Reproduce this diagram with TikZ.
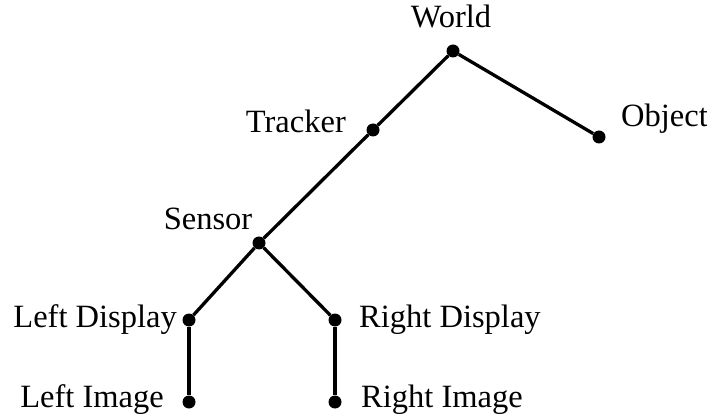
\documentclass[tikz,border=0pt]{standalone}
\usepackage{fontspec}
\setmainfont{Liberation Serif}
\tikzset{
  dot/.style={circle,fill=black,inner sep=0pt,minimum size=13pt},
  lbl/.style={inner sep=0pt,font=\fontsize{32.5}{39}\selectfont},
  edge/.style={line width=3.3pt}
}
\begin{document}
\begin{tikzpicture}[x=1pt,y=-1pt]
\useasboundingbox (0,0) rectangle (707,414);
\node[dot] (world) at (453,51) {};
\node[dot] (tracker) at (373,130) {};
\node[dot] (object) at (599,137) {};
\node[dot] (sensor) at (259,243) {};
\node[dot] (ldisp) at (189,320) {};
\node[dot] (rdisp) at (335,320) {};
\node[dot] (limg) at (189,402) {};
\node[dot] (rimg) at (335,402) {};
\node[lbl,anchor=base] (worldlbl) at (451,28) {World};
\node[lbl,anchor=base east] (trackerlbl) at (346,133) {Tracker};
\node[lbl,anchor=base west] (objectlbl) at (621,127) {Object};
\node[lbl,anchor=base] (sensorlbl) at (208,230) {Sensor};
\node[lbl,anchor=base east] (ldisplbl) at (177,327) {Left Display};
\node[lbl,anchor=base west] (rdisplbl) at (359,327) {Right Display};
\node[lbl,anchor=base east] (limglbl) at (164,407) {Left Image};
\node[lbl,anchor=base west] (rimglbl) at (361,407) {Right Image};
\draw[edge] (world) -- (tracker);
\draw[edge] (world) -- (object);
\draw[edge] (tracker) -- (sensor);
\draw[edge] (sensor) -- (ldisp);
\draw[edge] (sensor) -- (rdisp);
\draw[edge] (ldisp) -- (limg);
\draw[edge] (rdisp) -- (rimg);
\end{tikzpicture}
\end{document}
